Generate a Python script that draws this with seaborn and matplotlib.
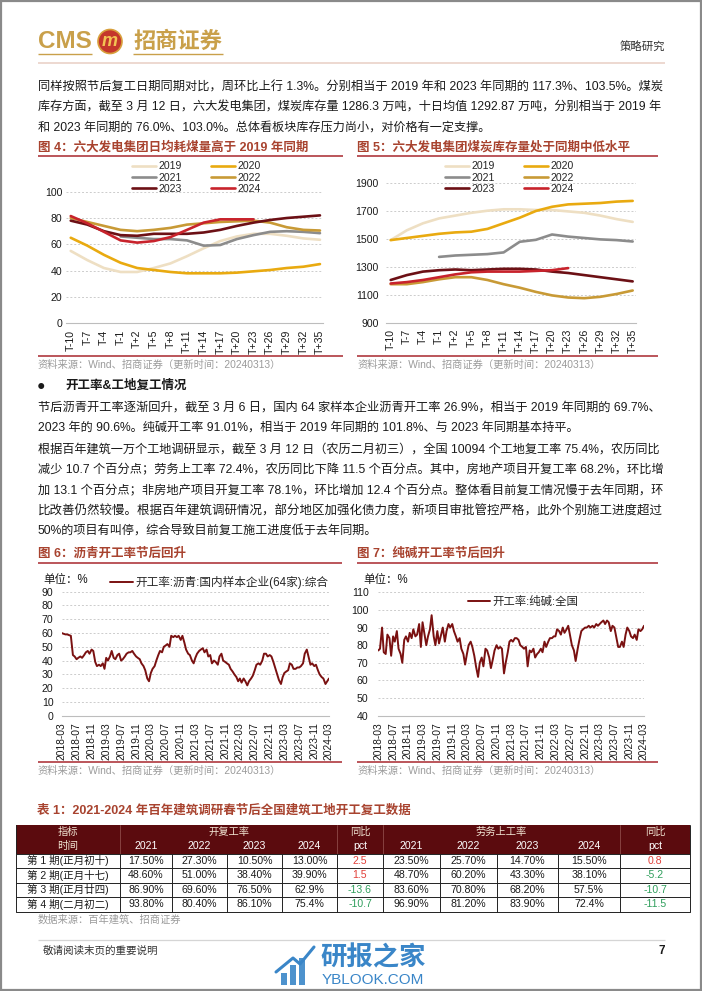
import matplotlib

matplotlib.use("Agg")
import matplotlib.pyplot as plt
import numpy as np
import pandas as pd
import seaborn as sns
from matplotlib.patches import Circle, Rectangle

W, H = 702, 991
nan = np.nan

# ---- data: figure 4 / 5 (days around Spring Festival, every third day) ----
day_ticks = list(range(-10, 36, 3))
years = ["2019", "2020", "2021", "2022", "2023", "2024"]

coal_use_2019 = [55, 48, 42, 39, 39, 42, 45.5, 51, 57, 62.5, 66, 68, 68, 66.5, 64.5, 63.5]
coal_use_2020 = [65, 59, 52, 46, 42, 40.5, 39, 38, 38, 38, 38.5, 39.5, 40.5, 42, 43, 45]
coal_use_2021 = [nan, nan, nan, 66, 65, 64, 64, 63, 59, 59.5, 64, 67, 69.5, 70, 69.5, 68.5]
coal_use_2022 = [80, 77, 74, 71, 70, 71, 72.5, 75, 76, 77, 77.5, 78, 76.5, 73, 71, 70.5]
coal_use_2023 = [78, 75, 70, 67, 66.5, 68, 68, 68, 69, 71, 74, 76.5, 78.5, 80, 81, 82]
coal_use_2024 = [81.5, 76, 69.5, 63, 61.3, 62.5, 65.5, 71, 76.5, 79, 79, 79, nan, nan, nan, nan]

stock_2019 = [1490, 1560, 1610, 1645, 1665, 1685, 1700, 1710, 1710, 1705, 1705, 1695, 1685, 1665, 1640, 1620]
stock_2020 = [1490, 1505, 1520, 1535, 1545, 1550, 1570, 1610, 1650, 1698, 1728, 1745, 1750, 1755, 1765, 1770]
stock_2021 = [nan, nan, nan, 1370, 1380, 1385, 1390, 1402, 1478, 1492, 1530, 1515, 1505, 1495, 1490, 1480]
stock_2022 = [1175, 1175, 1190, 1210, 1225, 1225, 1205, 1175, 1150, 1120, 1095, 1080, 1075, 1085, 1105, 1130]
stock_2023 = [1205, 1240, 1265, 1275, 1280, 1275, 1280, 1285, 1285, 1280, 1265, 1255, 1240, 1225, 1210, 1195]
stock_2024 = [1180, 1190, 1205, 1225, 1245, 1260, 1265, 1265, 1265, 1270, 1275, 1290, nan, nan, nan, nan]

# ---- data: figure 6 / 7 (semi-monthly readings, 2018-03 .. 2024-03) ----
asphalt_2018 = [60, 59.5, 59, 59, 58.5, 58, 44, 43, 41, 42, 43, 42, 44, 46, 47, 45, 48, 47, 39, 36]
asphalt_2019 = [37, 36, 38, 34, 42, 40, 43, 47, 42, 41, 44, 45, 40, 41, 43, 45, 46, 46, 47, 45, 43, 42, 41, 38]
asphalt_2020 = [36, 33, 27, 25, 31, 34, 36, 40, 44, 47, 46, 50, 51, 52, 50, 58, 57, 58, 57, 58, 55, 58, 53, 48]
asphalt_2021 = [45, 44, 40, 38, 42, 45, 47, 48, 49, 46, 48, 43, 44, 38, 40, 39, 37, 43, 45, 40, 39, 38, 37, 34]
asphalt_2022 = [32, 30, 28, 25, 27, 24, 27, 25, 22, 25, 27, 29, 33, 37, 38, 37, 40, 45, 45, 43, 44, 43, 39, 35]
asphalt_2023 = [30, 26, 23, 28, 31, 32, 33, 38, 37, 34, 34, 35, 35, 36, 38, 45, 48, 43, 37, 38, 36, 37, 33, 30]
asphalt_2024 = [28, 27, 23, 25, 27]

soda_2018 = [77, 78, 90, 76, 75, 86, 84, 74, 85, 82, 88, 78, 75, 70, 83, 85, 82, 87, 84, 89]
soda_2019 = [85, 86, 92, 79, 93, 87, 80, 85, 89, 97, 85, 80, 88, 81, 86, 90, 82, 88, 92, 90, 92, 88, 85, 82]
soda_2020 = [84, 78, 75, 69, 75, 80, 82, 79, 74, 68, 62, 70, 73, 68, 78, 77, 73, 67, 72, 77, 80, 78, 79, 78]
soda_2021 = [64, 70, 76, 82, 83, 82, 84, 84, 83, 80, 79, 78, 79, 68, 77, 76, 78, 73, 75, 76, 78, 76, 82, 79]
soda_2022 = [82, 84, 84, 85, 85, 89, 88, 86, 90, 87, 89, 91, 85, 80, 77, 71, 78, 83, 88, 89, 90, 90, 91, 90]
soda_2023 = [91, 90, 92, 91, 92, 93, 94, 92, 94, 93, 88, 91, 90, 85, 79, 79, 82, 79, 86, 90, 88, 85, 84, 86]
soda_2024 = [83, 89, 88, 89, 91]

# ---- data: table 1 ----
table_periods = ["第 1 期(正月初十)", "第 2 期(正月十七)", "第 3 期(正月廿四)", "第 4 期(二月初二)"]
table_years = ["2021", "2022", "2023", "2024"]
start_rate = [
    ["17.50%", "27.30%", "10.50%", "13.00%"],
    ["48.60%", "51.00%", "38.40%", "39.90%"],
    ["86.90%", "69.60%", "76.50%", "62.9%"],
    ["93.80%", "80.40%", "86.10%", "75.4%"],
]
start_yoy = ["2.5", "1.5", "-13.6", "-10.7"]
labor_rate = [
    ["23.50%", "25.70%", "14.70%", "15.50%"],
    ["48.70%", "60.20%", "43.30%", "38.10%"],
    ["83.60%", "70.80%", "68.20%", "57.5%"],
    ["96.90%", "81.20%", "83.90%", "72.4%"],
]
labor_yoy = ["0.8", "-5.2", "-10.7", "-11.5"]

# ---- text ----
para1 = [
    "同样按照节后复工日期同期对比，周环比上行 1.3%。分别相当于 2019 年和 2023 年同期的 117.3%、103.5%。煤炭",
    "库存方面，截至 3 月 12 日，六大发电集团，煤炭库存量 1286.3 万吨，十日均值 1292.87 万吨，分别相当于 2019 年",
    "和 2023 年同期的 76.0%、103.0%。总体看板块库存压力尚小，对价格有一定支撑。",
]
para2 = [
    "节后沥青开工率逐渐回升，截至 3 月 6 日，国内 64 家样本企业沥青开工率 26.9%，相当于 2019 年同期的 69.7%、",
    "2023 年的 90.6%。纯碱开工率 91.01%，相当于 2019 年同期的 101.8%、与 2023 年同期基本持平。",
]
para3 = [
    "根据百年建筑一万个工地调研显示，截至 3 月 12 日（农历二月初三），全国 10094 个工地复工率 75.4%，农历同比",
    "减少 10.7 个百分点；劳务上工率 72.4%，农历同比下降 11.5 个百分点。其中，房地产项目开复工率 68.2%，环比增",
    "加 13.1 个百分点；非房地产项目开复工率 78.1%，环比增加 12.4 个百分点。整体看目前复工情况慢于去年同期，环",
    "比改善仍然较慢。根据百年建筑调研情况，部分地区加强化债力度，新项目审批管控严格，此外个别施工进度超过",
    "50%的项目有叫停，综合导致目前复工施工进度低于去年同期。",
]
source_wind = "资料来源：Wind、招商证券（更新时间：20240313）"

# ---- style ----
sns.set_style("white")
plt.rcParams["font.family"] = ["Liberation Sans", "Noto Sans CJK SC", "DejaVu Sans"]
plt.rcParams["axes.unicode_minus"] = False

TEXT = "#1a1a1a"
GOLD = "#c9a04a"
TITLE = "#a8432f"
RULE = "#a8272d"
GREY = "#9b9b9b"
GRID = "#cccccc"
LINE_RED = "#7a1111"
HEAD_BG = "#5b0b0e"
year_colors = dict(zip(years, ["#eedfc3", "#e9aa10", "#8c8c8c", "#c89a36", "#6c1015", "#c8232c"]))

fig = plt.figure(figsize=(W / 100, H / 100), dpi=100)
page = fig.add_axes([0, 0, 1, 1])
page.set_xlim(0, W)
page.set_ylim(H, 0)
page.axis("off")


def px_axes(left, top, right, bottom):
    return fig.add_axes([left / W, 1 - bottom / H, (right - left) / W, (bottom - top) / H])


def put(x, y, s, size, color=TEXT, weight="normal", ha="left", **kw):
    return page.text(x, y, s, fontsize=size, color=color, fontweight=weight,
                     ha=ha, va="center", **kw)


def hline(x0, x1, y, color, lw):
    page.plot([x0, x1], [y, y], color=color, lw=lw, solid_capstyle="butt")


def paragraph(lines, y0, step, size, left=38, right=665):
    renderer = fig.canvas.get_renderer()
    for i, s in enumerate(lines):
        t = put(left, y0 + i * step, s, size)
        if i < len(lines) - 1:
            w = t.get_window_extent(renderer).width
            t.set_fontsize(size * min(max((right - left) / w, 0.92), 1.08))


# ---- page header ----
page.add_patch(Rectangle((0.8, 0.8), W - 1.6, H - 1.6, fill=False, ec="#8a8a8a", lw=1.6))
put(38, 42, "CMS", 17.5, GOLD, weight="bold")
page.add_patch(Circle((110, 41.5), 12, fc="#c4372c", ec="#d8a03c", lw=1.2))
put(110, 41.5, "m", 13, "#f3c453", weight="bold", ha="center", style="italic")
put(133, 42, "招商证券", 16, GOLD, weight="bold")
hline(38, 92, 54, GOLD, 1.0)
hline(133, 223, 54, GOLD, 1.0)
put(665, 47, "策略研究", 8.2, "#333333", ha="right")
hline(38, 665, 62.5, "#e8cec3", 1.1)

paragraph(para1, 87, 20.2, 8.7)


# ---- figure 4 / 5 ----
def seasonal_panel(values, box, ylim, yticks, pad, legend_xy):
    ax = px_axes(*box)
    frame = pd.DataFrame({"day": day_ticks, **dict(zip(years, values))})
    df = frame.melt(id_vars="day", var_name="year", value_name="value").dropna()
    sns.lineplot(data=df, x="day", y="value", hue="year", hue_order=years,
                 palette=year_colors, linewidth=1.9, estimator=None, ax=ax)
    leg = ax.get_legend()
    handles, labels = leg.legend_handles, [t.get_text() for t in leg.get_texts()]
    leg.remove()
    order = [0, 2, 4, 1, 3, 5]
    ax.legend([handles[i] for i in order], [labels[i] for i in order], ncol=2,
              loc="upper left", bbox_to_anchor=(legend_xy[0] / W, 1 - legend_xy[1] / H),
              bbox_transform=fig.transFigure, frameon=False, fontsize=7.6,
              borderpad=0, handlelength=2.25, handletextpad=0.25,
              columnspacing=2.75, labelspacing=0.13)
    for h in ax.get_legend().legend_handles:
        h.set_linewidth(1.9)
    ax.set_xlim(-10.8, 35.6)
    ax.set_ylim(*ylim)
    ax.set_yticks(yticks)
    ax.set_xticks(day_ticks)
    ax.set_xticklabels([f"T{d:+d}" for d in day_ticks])
    ax.set_xlabel("")
    ax.set_ylabel("")
    ax.grid(axis="y", color=GRID, lw=0.7, ls=(0, (2, 2)))
    for side in ("top", "right", "left"):
        ax.spines[side].set_visible(False)
    ax.spines["bottom"].set_color("#bdbdbd")
    ax.spines["bottom"].set_linewidth(0.8)
    ax.tick_params(axis="y", length=0, labelsize=7.6, pad=pad, colors=TEXT)
    ax.tick_params(axis="x", length=3, width=0.6, color="#bdbdbd", labelsize=7.6,
                   labelrotation=90, pad=1.5, labelcolor=TEXT)
    ax.set_facecolor("none")
    return ax


def fig_frame(x0, x1, title, y_title, y_top_rule, y_bottom_rule, y_source, source):
    put(x0, y_title, title, 9, TITLE, weight="bold")
    hline(x0, x1, y_top_rule, RULE, 1.1)
    hline(x0, x1, y_bottom_rule, RULE, 1.1)
    put(x0, y_source, source, 7.4, GREY)


fig_frame(38, 343, "图 4：六大发电集团日均耗煤量高于 2019 年同期", 147.5, 156, 356, 364.5, source_wind)
fig_frame(357, 658, "图 5：六大发电集团煤炭库存量处于同期中低水平", 147.5, 156, 356, 364.5, source_wind)

seasonal_panel([coal_use_2019, coal_use_2020, coal_use_2021, coal_use_2022, coal_use_2023, coal_use_2024],
               (66.3, 191.7, 323.3, 323.3), (0, 100), [0, 20, 40, 60, 80, 100], 3.0, (127, 156))
seasonal_panel([stock_2019, stock_2020, stock_2021, stock_2022, stock_2023, stock_2024],
               (386.4, 182.7, 635.9, 322.7), (900, 1900), [900, 1100, 1300, 1500, 1700, 1900], 5.5,
               (440, 156))

# ---- section 2 text ----
put(37, 386, "●", 10)
put(65, 386, "开工率&工地复工情况", 9, weight="bold")
paragraph(para2, 407.5, 20.5, 8.7)
paragraph(para3, 450, 20.5, 8.7)

# ---- figure 6 / 7 ----
half_months = pd.date_range("2018-03-01", "2024-03-01", freq="SMS")
month_ticks = pd.date_range("2018-03-01", "2024-03-01", freq="4MS")
asphalt = asphalt_2018 + asphalt_2019 + asphalt_2020 + asphalt_2021 + asphalt_2022 + asphalt_2023 + asphalt_2024
soda = soda_2018 + soda_2019 + soda_2020 + soda_2021 + soda_2022 + soda_2023 + soda_2024


def rate_panel(values, label, box, ylim, yticks, pad, legend_xy, legend_size):
    ax = px_axes(*box)
    sns.lineplot(x=half_months, y=values, color=LINE_RED, linewidth=1.4, label=label, ax=ax)
    ax.legend(loc="center left", bbox_to_anchor=(legend_xy[0] / W, 1 - legend_xy[1] / H),
              bbox_transform=fig.transFigure, frameon=False, fontsize=legend_size,
              borderpad=0, handlelength=1.95, handletextpad=0.25)
    ax.set_xlim(half_months[0], half_months[-1])
    ax.set_ylim(*ylim)
    ax.set_yticks(yticks)
    ax.set_xticks(month_ticks)
    ax.set_xticklabels([d.strftime("%Y-%m") for d in month_ticks])
    ax.set_xlabel("")
    ax.set_ylabel("")
    ax.grid(axis="y", color=GRID, lw=0.7, ls=(0, (2, 2)))
    for side in ("top", "right", "left"):
        ax.spines[side].set_visible(False)
    ax.spines["bottom"].set_color("#bdbdbd")
    ax.spines["bottom"].set_linewidth(0.8)
    ax.tick_params(axis="y", length=0, labelsize=7.6, pad=pad, colors=TEXT)
    ax.tick_params(axis="x", length=3, width=0.6, color="#bdbdbd", labelsize=7.4,
                   labelrotation=90, pad=1.5, labelcolor=TEXT)
    ax.set_facecolor("none")
    return ax


fig_frame(38, 342, "图 6：沥青开工率节后回升", 553.5, 562.5, 762, 771, source_wind)
fig_frame(357, 658, "图 7：纯碱开工率节后回升", 553.5, 562.5, 762, 771, source_wind)
put(43, 580.5, "单位：%", 8.3)
put(363, 580.5, "单位：%", 8.3)

rate_panel(asphalt, "开工率:沥青:国内样本企业(64家):综合", (61.7, 591.7, 329, 715.7),
           (0, 90), list(range(0, 91, 10)), 6.0, (104, 582.5), 8.4)
rate_panel(soda, "开工率:纯碱:全国", (378.3, 592.3, 644, 715.7),
           (40, 110), list(range(40, 111, 10)), 7.0, (462, 601.5), 8.2)

# ---- table 1 ----
put(37, 810.5, "表 1：2021-2024 年百年建筑调研春节后全国建筑工地开工复工数据", 9, TITLE, weight="bold")
col_edges = [16, 120, 172, 227, 282, 337, 383, 440, 497, 558, 620, 690]
row_edges = [824.5, 839, 853.5, 868, 882.5, 897, 911.5]
col_mid = [(a + b) / 2 for a, b in zip(col_edges[:-1], col_edges[1:])]
row_mid = [(a + b) / 2 for a, b in zip(row_edges[:-1], row_edges[1:])]
page.add_patch(Rectangle((col_edges[0], row_edges[0]), col_edges[-1] - col_edges[0],
                         row_edges[2] - row_edges[0], fc=HEAD_BG, ec="none"))
for x in (col_edges[1], col_edges[5], col_edges[6], col_edges[10]):
    page.plot([x, x], [row_edges[0], row_edges[2]], color="#8e4a48", lw=0.6)
HEAD_TXT = "#f1e4d2"
put(col_mid[0], row_mid[0], "指标", 7.4, HEAD_TXT, ha="center")
put((col_edges[1] + col_edges[5]) / 2, row_mid[0], "开复工率", 7.4, HEAD_TXT, ha="center")
put(col_mid[5], row_mid[0], "同比", 7.4, HEAD_TXT, ha="center")
put((col_edges[6] + col_edges[10]) / 2, row_mid[0], "劳务上工率", 7.4, HEAD_TXT, ha="center")
put(col_mid[10], row_mid[0], "同比", 7.4, HEAD_TXT, ha="center")
head2 = ["时间"] + table_years + ["pct"] + table_years + ["pct"]
for j, s in enumerate(head2):
    put(col_mid[j], row_mid[1], s, 7.6, "white" if j else HEAD_TXT, ha="center")

for i, period in enumerate(table_periods):
    y = row_mid[i + 2]
    cells = [period] + start_rate[i] + [start_yoy[i]] + labor_rate[i] + [labor_yoy[i]]
    for j, s in enumerate(cells):
        color = TEXT
        if j in (5, 10):
            color = "#e2403a" if float(s) > 0 else "#2f9e5c"
        put(col_mid[j], y, s, 7.6, color, ha="center")
for y in row_edges[2:]:
    hline(col_edges[0], col_edges[-1], y, "#222222", 0.7)
for x in col_edges:
    page.plot([x, x], [row_edges[2], row_edges[-1]], color="#222222", lw=0.7)
for x in (col_edges[0], col_edges[-1]):
    page.plot([x, x], [row_edges[0], row_edges[2]], color="#222222", lw=0.7)
put(38, 920, "数据来源：百年建筑、招商证券", 7.4, GREY)

# ---- footer ----
hline(38, 665, 940, "#d5d5d5", 0.9)
put(43, 950.5, "敬请阅读末页的重要说明", 7.6, "#333333")
put(665, 950.5, "7", 8.5, TEXT, weight="bold", ha="right")
WM = "#3a86c8"
for bx, bh in ((281, 12), (290, 20), (299, 27)):
    page.add_patch(Rectangle((bx, 985 - bh), 6, bh, fc=WM, ec="none", alpha=0.9))
page.plot([276, 293, 300, 314], [972, 958, 964, 947], color=WM, lw=2.2)
put(320, 958, "研报之家", 19, WM, weight="bold")
put(322, 980, "YBLOOK.COM", 11, WM)

fig.savefig("out.png", dpi=100)
